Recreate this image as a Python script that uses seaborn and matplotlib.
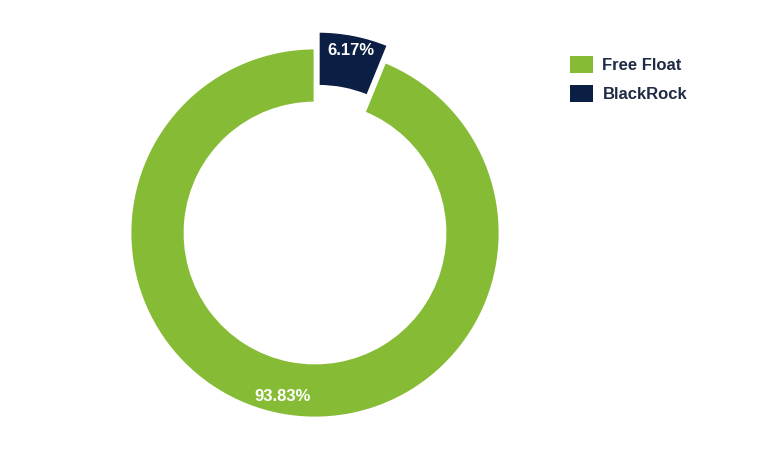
import numpy as np
import pandas as pd
import seaborn as sns
import matplotlib.pyplot as plt

holders = ['Free Float', 'BlackRock']
shares = [93.83, 6.17]
colors = ['#86BC35', '#0B1F44']

sns.set_theme(style='white')
plt.rcParams['font.family'] = ['Liberation Sans', 'DejaVu Sans']

fig = plt.figure(figsize=(7.65, 4.59), dpi=100)
ax = fig.add_axes([115 / 765, 26 / 459, 400 / 765, 400 / 459])

# BlackRock slice first so it sits at 12 o'clock, going clockwise
order = [1, 0]
wedges, texts, autotexts = ax.pie(
    [shares[i] for i in order],
    colors=[colors[i] for i in order],
    explode=[0.085, 0],
    startangle=90, counterclock=False,
    radius=0.925,
    wedgeprops=dict(width=0.275, edgecolor='white', linewidth=2),
    autopct='%.2f%%', pctdistance=0.9,
    textprops=dict(color='white', fontsize=12, fontweight='bold'),
)
# nudge the small-slice label outward a bit
x, y = autotexts[0].get_position()
autotexts[0].set_position((x * 1.015, y * 1.015))

ax.set_xlim(-1, 1)
ax.set_ylim(-1, 1)
ax.set_aspect('equal')
ax.axis('off')

handles = [wedges[order.index(i)] for i in range(len(holders))]
leg = fig.legend(handles, holders, loc='upper left',
                 bbox_to_anchor=(555 / 765, 1 - 41 / 459),
                 frameon=False, fontsize=12,
                 handlelength=1.35, handleheight=1.2,
                 labelspacing=0.7, handletextpad=0.6)
for t in leg.get_texts():
    t.set_fontweight('bold')
    t.set_color('#1F2A44')
for h in leg.legend_handles:
    h.set_edgecolor('none')

fig.savefig('out.png', dpi=100)
